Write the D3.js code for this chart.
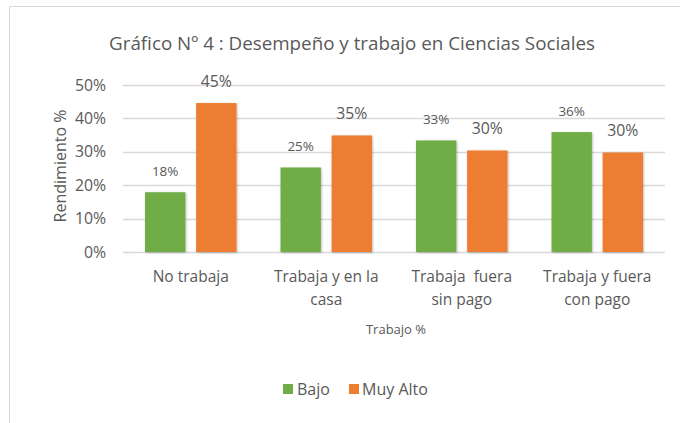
<!DOCTYPE html>
<html>
<head>
<meta charset="utf-8">
<script src="https://cdn.jsdelivr.net/npm/d3@7/dist/d3.min.js"></script>
<style>
html,body{margin:0;padding:0;background:#fff;}
svg{display:block;}
text{font-family:"Open Sans",sans-serif;fill:#595959;white-space:pre;}
</style>
</head>
<body>
<svg id="chart" width="680" height="423"></svg>
<script>
const categories = [["No trabaja"], ["Trabaja y en la", "casa"], ["Trabaja  fuera", "sin pago"], ["Trabaja y fuera", "con pago"]];
const seriesNames = ["Bajo", "Muy Alto"];
const bajo = [0.179, 0.253, 0.334, 0.359];
const muyAlto = [0.446, 0.349, 0.304, 0.298];
const bajoLabels = ["18%", "25%", "33%", "36%"];
const muyAltoLabels = ["45%", "35%", "30%", "30%"];
const yTicks = [0, 0.1, 0.2, 0.3, 0.4, 0.5];
const colors = ["#70AD47", "#ED7D31"];

const svg = d3.select("#chart");

// outer border (top and left visible)
svg.append("line").attr("x1", 9.5).attr("x2", 680).attr("y1", 6.5).attr("y2", 6.5).attr("stroke", "#D9D9D9");
svg.append("line").attr("x1", 9.5).attr("x2", 9.5).attr("y1", 6.5).attr("y2", 423).attr("stroke", "#D9D9D9");

const defs = svg.append("defs");
const f = defs.append("filter").attr("id", "sh").attr("x", "-20%").attr("y", "-20%").attr("width", "140%").attr("height", "140%");
f.append("feDropShadow").attr("dx", 0.8).attr("dy", 0.8).attr("stdDeviation", 1.2).attr("flood-color", "#000").attr("flood-opacity", 0.28);

const x0 = d3.scaleBand().domain(d3.range(categories.length)).range([123, 665]).paddingInner(0).paddingOuter(0);
const x1 = d3.scaleBand().domain([0, 1]).range([22, x0.bandwidth() - 22]).paddingInner(0.21);
const y = d3.scaleLinear().domain([0, 0.5]).range([252, 85]);

// gridlines
svg.append("g").selectAll("line").data(yTicks).join("line")
  .attr("x1", 123).attr("x2", 665)
  .attr("y1", d => Math.round(y(d)) + 0.5).attr("y2", d => Math.round(y(d)) + 0.5)
  .attr("stroke", "#D9D9D9").attr("stroke-width", 1.3);

// y tick labels
svg.append("g").selectAll("text").data(yTicks).join("text")
  .attr("x", 106).attr("y", d => y(d)).attr("dy", "0.35em")
  .attr("text-anchor", "end").style("font-size", "15.8px")
  .text(d3.format(".0%"));

// bars
const series = [bajo, muyAlto];
const labels = [bajoLabels, muyAltoLabels];
series.forEach((vals, s) => {
  svg.append("g").selectAll("rect").data(vals).join("rect")
    .attr("x", (d, i) => x0(i) + x1(s))
    .attr("width", x1.bandwidth())
    .attr("y", d => y(d))
    .attr("height", d => y(0) - y(d))
    .attr("fill", colors[s])
    .attr("filter", "url(#sh)");
  svg.append("g").selectAll("text").data(vals).join("text")
    .attr("x", (d, i) => x0(i) + x1(s) + x1.bandwidth() / 2)
    .attr("y", d => y(d) - (s === 0 ? 21 : 22))
    .attr("dy", "0.35em")
    .attr("text-anchor", "middle")
    .style("font-size", s === 0 ? "13.5px" : "15.8px")
    .text((d, i) => labels[s][i]);
});

// category labels
const cat = svg.append("g").selectAll("text").data(categories).join("text")
  .attr("text-anchor", "middle").style("font-size", "15.5px");
cat.each(function(lines, i) {
  const t = d3.select(this);
  lines.forEach((ln, k) => {
    t.append("tspan").attr("x", x0(i) + x0.bandwidth() / 2).attr("y", 277 + k * 22.5).attr("dy", "0.35em").text(ln);
  });
});

// title
svg.append("text").attr("x", 352).attr("y", 43).attr("dy", "0.35em").attr("text-anchor", "middle")
  .style("font-size", "18.8px").text("Gráfico Nº 4 : Desempeño y trabajo en Ciencias Sociales");

// axis titles
svg.append("text").attr("transform", "translate(60,166) rotate(-90)").attr("dy", "0.35em")
  .attr("text-anchor", "middle").style("font-size", "16px").text("Rendimiento %");
svg.append("text").attr("x", 396).attr("y", 329).attr("dy", "0.35em").attr("text-anchor", "middle")
  .style("font-size", "13px").text("Trabajo %");

// legend
const leg = [{x: 283, tx: 297}, {x: 349, tx: 362}];
seriesNames.forEach((n, s) => {
  svg.append("rect").attr("x", leg[s].x).attr("y", 384).attr("width", 10).attr("height", 10).attr("fill", colors[s]);
  svg.append("text").attr("x", leg[s].tx).attr("y", 389).attr("dy", "0.35em").style("font-size", "16px").text(n);
});
</script>
</body>
</html>
